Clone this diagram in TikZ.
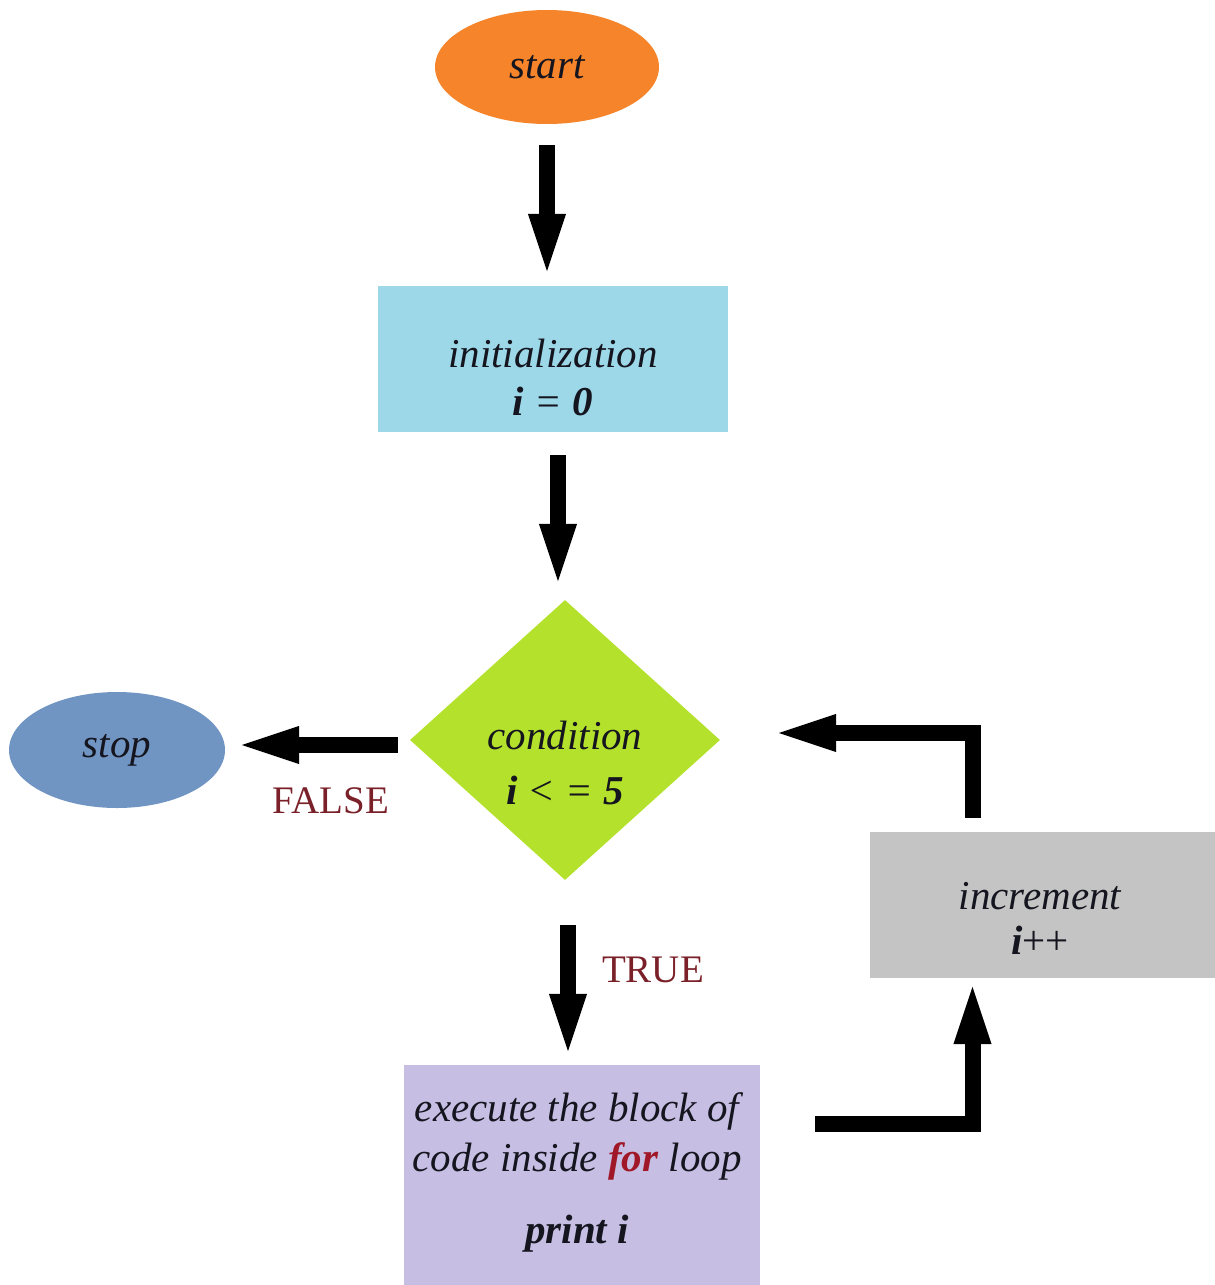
\documentclass[tikz,border=0pt]{standalone}
\usepackage{fontspec}
\setmainfont{Liberation Serif}
\usepackage{tikz}
\usetikzlibrary{arrows.meta,shapes}
\definecolor{startorange}{HTML}{F5842A}
\definecolor{initblue}{HTML}{9DD8E8}
\definecolor{condgreen}{HTML}{B4E12B}
\definecolor{stopblue}{HTML}{7195C3}
\definecolor{incrgrey}{HTML}{C4C4C4}
\definecolor{execviolet}{HTML}{C6BFE3}
\definecolor{labelred}{HTML}{7A2028}
\definecolor{keyred}{HTML}{A01828}
\definecolor{inkblack}{HTML}{15151F}
\tikzstyle{terminal}=[ellipse,inner sep=0pt,draw=none]
\tikzstyle{block}=[rectangle,inner sep=0pt,draw=none]
\tikzstyle{decision}=[diamond,inner sep=0pt,draw=none]
\tikzstyle{txt}=[align=center,text=inkblack,inner sep=0pt,font=\fontsize{41}{48}\selectfont\itshape]
\tikzstyle{branch}=[text=labelred,inner sep=0pt,font=\fontsize{39}{46}\selectfont]
\tikzstyle{flow}=[line width=16pt,-{Triangle[length=66pt,width=32pt]}]

\begin{document}
\begin{tikzpicture}[x=1pt,y=-1pt]
\useasboundingbox (0,0) rectangle (1215,1285);

\node[terminal,txt,fill=startorange,minimum width=224pt,minimum height=114pt] (start) at (547,67) {start};
\node[block,fill=initblue,minimum width=350pt,minimum height=146pt] (init) at (553,359) {};
\node[txt] (init-text) at (553,377) {initialization\\\textbf{i} = \textbf{0}};
\node[decision,fill=condgreen,minimum width=310pt,minimum height=280pt] (cond) at (565,740) {};
\node[txt] (cond-text) at (565,763) {condition\\[7pt]\textbf{i} < = \textbf{5}};
\node[terminal,txt,fill=stopblue,minimum width=216pt,minimum height=116pt] (stop) at (117,750) {stop};
\node[block,fill=incrgrey,minimum width=345pt,minimum height=146pt] (incr) at (1042.5,905) {};
\node[txt] (incr-text) at (1040,918) {increment\\[-3pt]\textbf{i}\textup{++}};
\node[block,fill=execviolet,minimum width=356pt,minimum height=220pt] (exec) at (582,1175) {};
\node[txt,font=\fontsize{41}{50}\selectfont\itshape] (exec-text) at (577,1172)
  {execute the block of\\code inside \textcolor{keyred}{\textbf{for}} loop\\[22pt]\textbf{print i}};

\node[branch] (false) at (331,801) {FALSE};
\node[branch] (true) at (653,970) {TRUE};

% main flow
\draw[flow,shorten <=21pt,shorten >=6pt] (start.south) -- (start.south |- init.north);
\draw[flow,shorten <=23pt,shorten >=10pt] ([xshift=5pt]init.south) -- ([xshift=5pt]init.south |- cond.north);
\draw[flow,shorten <=12pt,shorten >=8pt] ([yshift=-5pt]cond.west) -- ([yshift=-5pt]cond.west -| stop.east);
\draw[flow,shorten <=45pt,shorten >=5pt] ([xshift=3pt]cond.south) -- ([xshift=3pt]cond.south |- exec.north);
% loop back through the increment
\draw[flow] ([xshift=55pt,yshift=51pt]exec.east) -| ([xshift=-70pt]incr.south);
\draw[flow,shorten <=14pt,shorten >=50pt] ([xshift=-70pt]incr.north) |- ([yshift=7pt]cond.east);
\end{tikzpicture}
\end{document}
